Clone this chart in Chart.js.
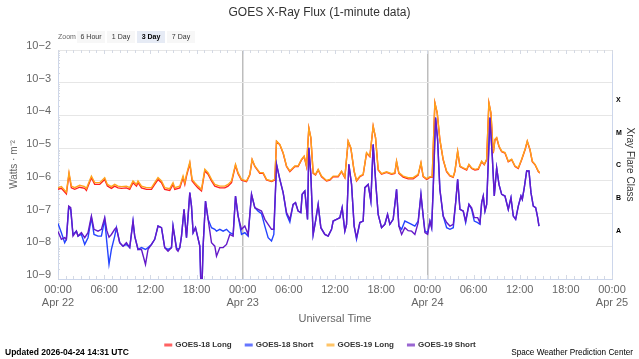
<!DOCTYPE html>
<html><head><meta charset="utf-8">
<script src="https://cdn.jsdelivr.net/npm/chart.js@4.4.1/dist/chart.umd.min.js"></script>
<style>
html,body{margin:0;padding:0;background:#fff;}
#wrap{position:relative;width:639px;height:359px;overflow:hidden;font-family:"Liberation Sans",Arial,sans-serif;}
canvas{position:absolute;left:0;top:0;}
#title{position:absolute;left:0;width:639px;top:4px;text-align:center;font-size:12px;color:#333;line-height:16px;}
.zl{position:absolute;left:58px;top:31px;font-size:7px;line-height:12px;color:#666;}
.btn{position:absolute;top:31px;width:28px;height:12px;line-height:12px;font-size:7px;color:#333;background:#f7f7f7;text-align:center;}
.sel{background:#e6ebf5;font-weight:bold;color:#000;}
#upd{position:absolute;left:5px;top:346px;font-size:8.5px;line-height:12px;font-weight:bold;color:#000;}
#swpc{position:absolute;right:6px;top:347px;font-size:8.2px;line-height:12px;color:#000;}
</style></head>
<body><div id="wrap">
<canvas id="c" width="639" height="359"></canvas>
<div id="title">GOES X-Ray Flux (1-minute data)</div>
<div class="zl">Zoom</div>
<div class="btn" style="left:77px">6 Hour</div>
<div class="btn" style="left:107px">1 Day</div>
<div class="btn sel" style="left:137px">3 Day</div>
<div class="btn" style="left:167px">7 Day</div>
<div id="upd">Updated 2026-04-24 14:31 UTC</div>
<div id="swpc">Space Weather Prediction Center</div>
</div>
<script>
// ---- data (hours since 2026-04-22 00:00 UTC, flux in W/m^2) ----
const longTimes = [
0,0.44,1.09,1.43,1.74,2.17,2.82,3.47,3.69,3.90,
4.34,4.77,5.42,6.07,6.42,6.94,7.37,7.80,8.24,8.89,
9.32,9.75,10.2,10.4,10.85,11.5,12.15,12.57,13.0,13.45,
13.87,14.52,14.95,15.18,15.83,16.25,16.48,16.7,17.13,17.43,
17.78,18.2,18.65,19.08,19.5,19.95,20.38,21.03,21.68,22.1,
22.55,23.07,23.4,23.85,24.5,24.93,25.23,25.58,26.23,26.66,
27.1,27.75,28.18,28.4,28.83,29.26,29.7,30.13,30.78,31.2,
31.65,31.99,32.3,32.6,32.86,33.16,33.47,33.81,34.25,34.9,
35.33,35.76,36.41,36.85,37.28,37.71,38.06,38.49,38.8,39.23,
39.66,40.1,40.53,40.96,41.27,41.61,42.05,42.7,43.35,43.78,
44.0,44.3,44.86,45.51,46.16,46.81,47.17,47.46,47.9,48.34,
48.63,48.76,48.98,49.28,49.63,50.06,50.5,50.93,51.36,51.58,
51.94,52.24,52.67,53.11,53.41,53.76,54.19,54.62,55.06,55.4,
55.71,56.0,56.26,56.57,56.79,57.01,57.31,57.66,58.1,58.52,
58.96,59.4,59.82,60.26,60.7,60.99,61.34,61.64,62.0,62.42,
62.5];
const goes18Long = [
5.5e-7,5.9e-7,4.0e-7,1.6e-6,6.1e-7,5.5e-7,6.4e-7,5.9e-7,5.1e-7,6.9e-7,
1.25e-6,7.8e-7,7.8e-7,1.1e-6,6.9e-7,5.9e-7,6.9e-7,6.1e-7,5.9e-7,6.1e-7,
5.5e-7,8.8e-7,6.9e-7,8.8e-7,6.1e-7,5.5e-7,5.5e-7,7.8e-7,1.1e-6,8.8e-7,
5.5e-7,5.1e-7,7.8e-7,5.5e-7,6.1e-7,1.25e-6,7.8e-7,1.4e-6,3.4e-6,1.0e-6,
7.8e-7,6.1e-7,4.9e-7,2.0e-6,1.6e-6,1.0e-6,6.9e-7,6.1e-7,6.1e-7,6.9e-7,
8.8e-7,3.0e-6,1.65e-6,1.05e-6,9.5e-7,1.52e-6,4.4e-6,2.75e-6,1.7e-6,1.7e-6,
1.06e-6,9.5e-7,1.06e-6,1.6e-5,1.26e-5,7.0e-6,2.75e-6,1.92e-6,2.75e-6,2.75e-6,
4.4e-6,5.5e-6,2.75e-6,4.1e-5,2.05e-5,1.7e-6,1.52e-6,2.15e-6,1.34e-6,9.9e-7,
1.06e-6,1.34e-6,1.34e-6,1.92e-6,1.25e-6,1.6e-5,1.0e-5,1.92e-6,9.9e-7,1.34e-6,
1.52e-6,7.0e-6,5.5e-6,4.6e-5,2.05e-5,2.15e-6,1.6e-6,1.82e-6,1.6e-6,1.7e-6,
3.85e-6,1.7e-6,1.3e-6,1.15e-6,1.15e-6,1.5e-6,3.45e-6,1.34e-6,1.1e-6,1.28e-6,
1.28e-6,8.9e-6,2.4e-4,1.2e-4,1.8e-5,4.4e-6,1.92e-6,1.41e-6,1.28e-6,1.92e-6,
7.8e-6,2.75e-6,2.4e-6,2.15e-6,3.1e-6,2.4e-6,2.15e-6,2.26e-6,3.85e-6,3.1e-6,
4.4e-6,2.4e-4,1.2e-4,7.0e-6,1.8e-5,2.05e-5,1.12e-5,7.8e-6,7.0e-6,3.85e-6,
4.4e-6,2.75e-6,2.4e-6,4.4e-6,8.9e-6,1.6e-5,8.9e-6,3.85e-6,3.1e-6,1.92e-6,
1.85e-6];
const goes19Long = [
6.2e-7,6.65e-7,4.5e-7,1.78e-6,6.9e-7,6.2e-7,7.3e-7,6.65e-7,5.8e-7,7.8e-7,
1.4e-6,8.8e-7,8.8e-7,1.25e-6,7.8e-7,6.65e-7,7.8e-7,6.9e-7,6.65e-7,6.9e-7,
6.2e-7,9.9e-7,7.8e-7,9.9e-7,6.9e-7,6.2e-7,6.2e-7,8.8e-7,1.25e-6,9.9e-7,
6.2e-7,5.8e-7,8.8e-7,6.2e-7,6.9e-7,1.4e-6,8.8e-7,1.58e-6,3.76e-6,1.11e-6,
8.8e-7,6.9e-7,5.5e-7,2.25e-6,1.78e-6,1.11e-6,7.8e-7,6.9e-7,6.9e-7,7.8e-7,
9.9e-7,3.2e-6,1.78e-6,1.11e-6,9.9e-7,1.58e-6,4.55e-6,2.84e-6,1.78e-6,1.78e-6,
1.11e-6,9.9e-7,1.11e-6,1.65e-5,1.3e-5,7.3e-6,2.84e-6,2.0e-6,2.84e-6,2.84e-6,
4.55e-6,5.7e-6,2.84e-6,4.2e-5,2.1e-5,1.78e-6,1.58e-6,2.25e-6,1.4e-6,1.03e-6,
1.11e-6,1.4e-6,1.4e-6,2.0e-6,1.3e-6,1.65e-5,1.03e-5,2.0e-6,1.03e-6,1.4e-6,
1.58e-6,7.3e-6,5.7e-6,4.75e-5,2.1e-5,2.25e-6,1.66e-6,1.9e-6,1.66e-6,1.78e-6,
4.0e-6,1.78e-6,1.4e-6,1.25e-6,1.25e-6,1.58e-6,3.6e-6,1.4e-6,1.17e-6,1.34e-6,
1.34e-6,9.2e-6,2.46e-4,1.22e-4,1.86e-5,4.55e-6,2.0e-6,1.47e-6,1.34e-6,2.0e-6,
8.1e-6,2.84e-6,2.5e-6,2.25e-6,3.2e-6,2.5e-6,2.25e-6,2.36e-6,4.0e-6,3.2e-6,
4.55e-6,2.46e-4,1.22e-4,7.3e-6,1.86e-5,2.1e-5,1.16e-5,8.1e-6,7.3e-6,4.0e-6,
4.55e-6,2.84e-6,2.5e-6,4.55e-6,9.2e-6,1.65e-5,9.2e-6,4.0e-6,3.2e-6,2.0e-6,
1.9e-6];
const shortTimes = [
0,0.44,0.87,1.09,1.39,1.65,1.95,2.39,2.60,3.04,
3.47,3.90,4.34,4.68,5.20,5.64,6.07,6.35,6.63,6.94,
7.37,7.59,8.02,8.45,8.89,9.32,9.75,9.97,10.40,10.85,
11.37,11.70,12.15,12.57,13.0,13.45,13.87,14.30,14.75,14.95,
15.40,15.60,15.83,16.05,16.38,16.70,17.13,17.35,17.56,17.87,
18.13,18.43,18.56,18.73,18.86,19.17,19.51,19.95,20.38,20.60,
21.03,21.46,21.90,22.33,22.76,23.07,23.41,23.85,24.28,24.71,
25.15,25.58,26.01,26.45,26.88,27.31,27.75,28.05,28.40,28.83,
29.26,29.70,30.13,30.56,30.87,31.21,31.56,31.73,32.08,32.43,
32.60,32.86,33.16,33.47,33.81,34.16,34.68,35.11,35.55,35.76,
36.20,36.63,36.93,37.28,37.50,37.80,38.15,38.49,38.80,39.23,
39.66,39.88,40.31,40.66,40.96,41.31,41.61,42.05,42.48,42.83,
43.13,43.56,44.0,44.30,44.66,45.08,45.51,45.96,46.38,46.81,
47.17,47.46,47.69,48.04,48.34,48.56,48.76,49.07,49.33,49.63,
50.06,50.51,50.94,51.37,51.68,51.94,52.24,52.67,52.98,53.41,
53.76,54.10,54.54,54.84,55.06,55.27,55.49,55.71,56.14,56.44,
56.70,57.01,57.31,57.66,58.09,58.52,58.87,59.17,59.48,59.82,
60.17,60.34,60.60,60.91,61.21,61.47,61.77,62.08,62.34,62.51];
const goes18Short = [
5.0e-8,2.6e-8,1.29e-8,1.63e-8,1.51e-7,1.34e-7,2.3e-8,2.9e-8,2.05e-8,2.3e-8,
1.14e-8,1.83e-8,7.5e-8,2.3e-8,2.05e-8,2.05e-8,6.65e-8,1.29e-8,2.8e-9,8.0e-9,
2.05e-8,3.7e-8,1.29e-8,1.01e-8,1.14e-8,9.1e-9,5.9e-8,2.05e-8,8.0e-9,9.1e-9,
8.0e-9,9.1e-9,1.14e-8,1.63e-8,4.15e-8,3.7e-8,9.1e-9,8.0e-9,9.1e-9,4.15e-8,
9.1e-9,8.0e-9,9.1e-9,2.05e-8,1.34e-7,1.83e-8,4.36e-7,1.69e-7,2.6e-8,3.7e-8,
2.05e-8,1.01e-8,8e-10,8e-10,1.01e-8,2.41e-7,6.65e-8,3.7e-8,3.3e-8,2.9e-8,
3.3e-8,2.9e-8,3.3e-8,2.6e-8,2.3e-8,3.43e-7,8.4e-8,2.3e-8,2.6e-8,2.05e-8,
3.86e-7,1.51e-7,1.19e-7,1.0e-7,4.15e-8,1.83e-8,1.45e-8,2.3e-8,3.2e-6,1.11e-6,
4.36e-7,9.5e-8,5.5e-8,1.91e-7,2.15e-7,1.19e-7,1.07e-7,3.86e-7,4.9e-7,6.65e-8,
1.03e-5,1.58e-6,2.3e-8,5.9e-8,1.91e-7,3.7e-8,2.3e-8,2.05e-8,3.3e-8,5.9e-8,
6.65e-8,7.5e-8,1.51e-7,2.9e-8,4.7e-8,3.2e-6,7.8e-7,4.15e-8,1.63e-8,5.3e-8,
5.9e-8,6.2e-7,7.8e-7,2.41e-7,1.3e-5,7.8e-7,9.5e-8,3.7e-8,4.7e-8,9.5e-8,
4.7e-8,6.65e-8,5.5e-7,4.15e-8,3.3e-8,5.9e-8,5.3e-8,4.7e-8,4.15e-8,5.9e-8,
3.86e-7,8.4e-8,2.9e-8,2.6e-8,5.9e-8,3.7e-8,5.5e-7,8.6e-5,1.86e-5,5.5e-7,
8.4e-8,3.7e-8,3.3e-8,3.7e-8,2.15e-7,1.11e-6,1.34e-7,1.19e-7,5.3e-8,1.91e-7,
1.34e-7,5.9e-8,5.3e-8,4.7e-8,2.15e-7,3.43e-7,1.19e-7,1.91e-7,8.6e-5,5.7e-6,
3.43e-7,2.5e-6,7.8e-7,3.86e-7,3.43e-7,1.34e-7,3.06e-7,8.4e-8,6.65e-8,1.69e-7,
3.43e-7,2.72e-7,6.2e-7,2.0e-6,2.0e-6,4.36e-7,1.69e-7,1.51e-7,7.5e-8,4.15e-8];
const goes19Short = [
2.85e-8,1.63e-8,1.83e-8,1.63e-8,1.69e-7,1.51e-7,2.05e-8,2.9e-8,2.05e-8,2.6e-8,
1.83e-8,2.6e-8,8.4e-8,3.3e-8,2.9e-8,3.3e-8,7.5e-8,3.0e-8,1.9e-8,2.3e-8,
3.3e-8,3.7e-8,1.29e-8,1.01e-8,1.29e-8,9.1e-9,5.9e-8,2.05e-8,8.0e-9,8.0e-9,
2.8e-9,8.0e-9,1.14e-8,1.63e-8,4.15e-8,3.7e-8,9.1e-9,7.1e-9,9.1e-9,4.15e-8,
8.0e-9,7.1e-9,9.1e-9,2.05e-8,1.34e-7,1.83e-8,4.36e-7,1.69e-7,2.6e-8,3.7e-8,
2.05e-8,1.01e-8,8e-10,8e-10,1.01e-8,2.41e-7,6.65e-8,1.29e-8,1.01e-8,5.0e-9,
9.1e-9,9.1e-9,1.14e-8,2.3e-8,2.05e-8,3.43e-7,8.4e-8,3.3e-8,4.15e-8,2.3e-8,
3.86e-7,1.51e-7,1.34e-7,1.19e-7,6.65e-8,4.7e-8,3.3e-8,3.3e-8,3.2e-6,1.11e-6,
4.36e-7,1.07e-7,6.65e-8,1.91e-7,2.15e-7,1.19e-7,1.07e-7,3.86e-7,4.9e-7,6.65e-8,
1.03e-5,1.58e-6,2.3e-8,5.9e-8,1.91e-7,3.7e-8,2.3e-8,2.05e-8,3.3e-8,5.9e-8,
6.65e-8,7.5e-8,1.51e-7,2.9e-8,4.7e-8,3.2e-6,7.8e-7,4.15e-8,1.83e-8,5.3e-8,
5.9e-8,6.2e-7,7.8e-7,2.41e-7,1.3e-5,7.8e-7,9.5e-8,3.7e-8,4.7e-8,9.5e-8,
4.7e-8,6.65e-8,5.5e-7,4.15e-8,2.3e-8,3.7e-8,3.0e-8,2.9e-8,2.3e-8,5.3e-8,
3.86e-7,8.4e-8,2.6e-8,2.3e-8,5.9e-8,3.7e-8,5.5e-7,8.6e-5,1.86e-5,5.5e-7,
8.4e-8,5.3e-8,4.15e-8,4.7e-8,2.15e-7,1.11e-6,1.34e-7,1.19e-7,5.9e-8,1.91e-7,
1.51e-7,7.5e-8,7.5e-8,5.3e-8,2.15e-7,3.43e-7,1.19e-7,1.91e-7,8.6e-5,5.7e-6,
3.43e-7,2.5e-6,7.8e-7,3.86e-7,3.43e-7,1.34e-7,3.06e-7,8.4e-8,6.65e-8,1.69e-7,
3.43e-7,2.72e-7,6.2e-7,2.0e-6,2.0e-6,4.36e-7,1.69e-7,1.51e-7,7.5e-8,4.15e-8];

const seriesNames = ['GOES-18 Long','GOES-18 Short','GOES-19 Long','GOES-19 Short'];
const xTickHours = [0,6,12,18,24,30,36,42,48,54,60,66,72];
const xTickLabels = [['00:00','Apr 22'],'06:00','12:00','18:00',['00:00','Apr 23'],'06:00','12:00','18:00',['00:00','Apr 24'],'06:00','12:00','18:00',['00:00','Apr 25']];
const dayLineHours = [24,48];
const yTickValues = [1e-9,1e-8,1e-7,1e-6,1e-5,1e-4,1e-3,1e-2];
const yTickLabels = ['10\u22129','10\u22128','10\u22127','10\u22126','10\u22125','10\u22124','10\u22123','10\u22122'];
const flareClassValues = [3.16e-8,3.16e-7,3.16e-6,3.16e-5,3.16e-4];
const flareClassLabels = ['A','B','C','M','X'];

// ---- chart ----
const F = '"Liberation Sans", Arial, sans-serif';
const lineColors = ['#ff2020','#2444ff','#ffa31c','#6419c9'];
const legendColors = ['#ff6262','#6676ff','#ffc466','#9a66d2'];
const drawOrder = [4,3,2,1];
const seriesTimes = [longTimes, shortTimes, longTimes, shortTimes];
const seriesValues = [goes18Long, goes18Short, goes19Long, goes19Short];

const datasets = seriesNames.map((name, k) => ({
  label: name,
  data: seriesTimes[k].map((t, i) => ({x: t, y: seriesValues[k][i]})),
  borderColor: lineColors[k],
  backgroundColor: legendColors[k],
  borderWidth: 1.4,
  pointRadius: 0,
  tension: 0,
  order: drawOrder[k]
}));

const decor = {
  id: 'decor',
  beforeDatasetsDraw(chart) {
    const c = chart.ctx, a = chart.chartArea, xs = chart.scales.x, ys = chart.scales.y;
    c.save();
    c.strokeStyle = '#d4d9e4';
    c.lineWidth = 1;
    c.beginPath();
    for (let h = 0; h <= 72; h++) {
      const x = Math.round(xs.getPixelForValue(h)) + 0.5;
      const len = (h % 6 === 0) ? 4 : 3;
      c.moveTo(x, a.bottom); c.lineTo(x, a.bottom - len);
      c.moveTo(x, a.top); c.lineTo(x, a.top + len);
    }
    for (let n = -9; n < -2; n++) {
      for (let k = 2; k <= 9; k++) {
        const y = Math.round(ys.getPixelForValue(k * Math.pow(10, n))) + 0.5;
        c.moveTo(a.left, y); c.lineTo(a.left + 2, y);
      }
    }
    c.stroke();
    c.restore();
  },
  afterDraw(chart) {
    const c = chart.ctx;
    c.save();
    c.font = 'bold 8px ' + F;
    c.textBaseline = 'middle';
    const sym = 8, gap = 3, spacing = 13;
    const items = chart.data.datasets.map(d => ({t: d.label, col: d.backgroundColor, w: c.measureText(d.label).width}));
    let total = items.reduce((s, it) => s + sym + gap + it.w, 0) + spacing * (items.length - 1);
    let x = 320 - total / 2;
    const yc = 345;
    items.forEach(it => {
      c.fillStyle = it.col;
      c.fillRect(x, yc - 1.5, sym, 3);
      c.fillStyle = '#333';
      c.fillText(it.t, x + sym + gap, yc);
      x += sym + gap + it.w + spacing;
    });
    c.restore();
  }
};

new Chart(document.getElementById('c'), {
  type: 'line',
  data: {datasets},
  options: {
    responsive: false,
    animation: false,
    devicePixelRatio: 1,
    layout: {padding: {left: 0, right: 0, top: 50, bottom: 29}},
    plugins: {legend: {display: false}, tooltip: {enabled: false}},
    scales: {
      x: {
        type: 'linear', min: 0, max: 72, position: 'bottom',
        afterBuildTicks: s => { s.ticks = xTickHours.map(v => ({value: v})); },
        ticks: {autoSkip: false, maxRotation: 0, padding: 4, color: '#666', font: {family: F, size: 11},
                callback: (v, i) => xTickLabels[i]},
        grid: {color: c => dayLineHours.includes(c.tick && c.tick.value) ? '#bdbdbd' : 'rgba(0,0,0,0)', lineWidth: 1.5, drawTicks: false},
        border: {color: '#ccd6eb'},
        title: {display: true, text: 'Universal Time', color: '#666', font: {family: F, size: 11}, padding: {top: 4, bottom: 4}},
        afterFit: s => { s.height = 51; }
      },
      y: {
        type: 'logarithmic', position: 'left', min: 1e-9, max: 1e-2,
        afterBuildTicks: s => { s.ticks = yTickValues.map(v => ({value: v})); },
        ticks: {autoSkip: false, padding: 7, labelOffset: -4, color: '#666', font: {family: F, size: 11},
                callback: (v, i) => yTickLabels[i]},
        grid: {color: '#e6e6e6', drawTicks: false},
        border: {color: '#ccd6eb'},
        title: {display: true, text: 'Watts \u00b7 m\u207b\u00b2', color: '#666', font: {family: F, size: 10}, padding: {top: 8, bottom: 0}},
        afterFit: s => { s.width = 58; }
      },
      y2: {
        type: 'logarithmic', position: 'right', min: 1e-9, max: 1e-2,
        afterBuildTicks: s => { s.ticks = flareClassValues.map(v => ({value: v})); },
        ticks: {autoSkip: false, padding: 4, labelOffset: 1, color: '#000', font: {family: F, size: 7, weight: 'bold'},
                callback: (v, i) => flareClassLabels[i]},
        grid: {drawOnChartArea: false, drawTicks: false},
        border: {color: '#ccd6eb'},
        title: {display: true, text: 'Xray Flare Class', color: '#333', font: {family: F, size: 10}, padding: {top: 3, bottom: 0}},
        afterFit: s => { s.width = 27; }
      }
    }
  },
  plugins: [decor]
});
</script>
</body></html>
